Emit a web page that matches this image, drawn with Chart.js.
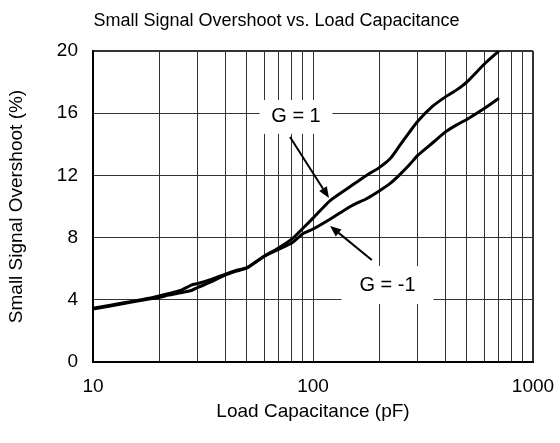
<!DOCTYPE html>
<html><head><meta charset="utf-8">
<script src="https://cdn.jsdelivr.net/npm/chart.js@4/dist/chart.umd.min.js"></script>
<style>html,body{margin:0;padding:0;background:#fff}#wrap{width:560px;height:443px}</style>
</head><body><div id="wrap"><canvas id="c" width="560" height="443"></canvas></div>
<script>
// ---- data ----
const capacitance = [10,12,15,18,20,22,25,28,30,35,40,45,50,60,70,80,90,100,120,150,175,200,225,250,275,300,350,400,450,500,600,700];
const overshootG1 = [3.45,3.65,3.9,4.1,4.25,4.4,4.6,4.95,5.05,5.35,5.65,5.9,6.05,6.8,7.35,7.9,8.6,9.25,10.4,11.35,12.0,12.5,13.1,14.0,14.8,15.5,16.45,17.05,17.5,18.0,19.15,20.0];
const overshootGm1 = [3.4,3.6,3.85,4.05,4.15,4.3,4.45,4.6,4.8,5.2,5.6,5.85,6.05,6.8,7.25,7.65,8.25,8.55,9.2,10.05,10.5,11.0,11.5,12.1,12.7,13.3,14.1,14.8,15.25,15.6,16.3,16.97];
const seriesNames = ['G = 1','G = -1'];
const xGridValues = [10,20,30,40,50,60,70,80,90,100,200,300,400,500,600,700,800,900,1000];
const xLabelValues = [10,100,1000];
const yTickValues = [0,4,8,12,16,20];

// ---- styles ----
const FONT = '"Liberation Sans", Arial, sans-serif';
const annotations = [
  {series:0, at:[83.7,15.76], box:[73,34], from:[78.6,14.47], to:[118.2,10.55]},
  {series:1, at:[218,4.95], box:[92,38], from:[185,6.56], to:[119.6,8.75]}
];

const annotPlugin = {
  id:'annot',
  afterDatasetsDraw(chart){
    const ctx = chart.ctx, xs = chart.scales.x, ys = chart.scales.y;
    ctx.save();
    annotations.forEach(a=>{
      const cx = xs.getPixelForValue(a.at[0]), cy = ys.getPixelForValue(a.at[1]);
      ctx.fillStyle = '#fff';
      ctx.fillRect(cx - a.box[0]/2, cy - a.box[1]/2, a.box[0], a.box[1]);
      ctx.fillStyle = '#000';
      ctx.font = '20px ' + FONT;
      ctx.textAlign = 'center'; ctx.textBaseline = 'middle';
      ctx.fillText(seriesNames[a.series], cx, cy);
      const x1 = xs.getPixelForValue(a.from[0]), y1 = ys.getPixelForValue(a.from[1]);
      const x2 = xs.getPixelForValue(a.to[0]), y2 = ys.getPixelForValue(a.to[1]);
      const ang = Math.atan2(y2-y1, x2-x1), L = 11, W = 4.5;
      const bx = x2 - L*Math.cos(ang), by = y2 - L*Math.sin(ang);
      ctx.strokeStyle = '#000'; ctx.lineWidth = 2;
      ctx.beginPath(); ctx.moveTo(x1,y1); ctx.lineTo(bx,by); ctx.stroke();
      ctx.beginPath();
      ctx.moveTo(x2,y2);
      ctx.lineTo(bx + W*Math.sin(ang), by - W*Math.cos(ang));
      ctx.lineTo(bx - W*Math.sin(ang), by + W*Math.cos(ang));
      ctx.closePath(); ctx.fill();
    });
    ctx.restore();
  }
};

const toPts = ys => capacitance.map((c,i)=>({x:c, y:ys[i]}));

new Chart(document.getElementById('c'), {
  type:'line',
  data:{datasets:[
    {label:seriesNames[0], data:toPts(overshootG1), borderColor:'#000', borderWidth:3, pointRadius:0, tension:0.2, fill:false},
    {label:seriesNames[1], data:toPts(overshootGm1), borderColor:'#000', borderWidth:3, pointRadius:0, tension:0.2, fill:false}
  ]},
  options:{
    responsive:false, animation:false, devicePixelRatio:1,
    layout:{padding:{left:0,right:7,top:0,bottom:0}},
    plugins:{
      legend:{display:false}, tooltip:{enabled:false},
      title:{display:true, text:'Small Signal Overshoot vs. Load Capacitance', color:'#000',
        font:{family:FONT, size:18, weight:'normal'}, padding:{top:10,bottom:19.4}}
    },
    scales:{
      x:{type:'logarithmic', position:'bottom', min:10, max:1000,
        afterBuildTicks:s=>{ s.ticks = xGridValues.map(v=>({value:v})); },
        afterFit:s=>{ s.height = 81; s.paddingLeft = 0; s.paddingRight = 0; },
        ticks:{autoSkip:false, maxRotation:0, minRotation:0, padding:13, color:'#000',
          font:{family:FONT, size:19},
          callback:v=> xLabelValues.includes(v) ? String(v) : ''},
        grid:{color:'#333', drawTicks:false, lineWidth:c=> (c.tick && c.tick.value===1000) ? 2 : 1},
        border:{color:'#000', width:2},
        title:{display:true, text:'Load Capacitance (pF)', color:'#000', font:{family:FONT, size:19}, padding:{top:0,bottom:19.6}}
      },
      y:{type:'linear', position:'left', min:0, max:20,
        afterBuildTicks:s=>{ s.ticks = yTickValues.map(v=>({value:v})); },
        afterFit:s=>{ s.width = 93; s.paddingTop = 0; s.paddingBottom = 0; },
        ticks:{padding:15, color:'#000', font:{family:FONT, size:19}},
        grid:{color:'#333', drawTicks:false, lineWidth:c=> (c.tick && c.tick.value===20) ? 2 : 1},
        border:{color:'#000', width:2},
        title:{display:true, text:'Small Signal Overshoot (%)', color:'#000', font:{family:FONT, size:19}, padding:{top:5.6,bottom:0}}
      },
      yr:{type:'linear', position:'right', display:true,
        afterFit:s=>{ s.width = 20; s.paddingTop = 0; s.paddingBottom = 0; },
        ticks:{display:false}, grid:{display:false}, border:{display:false}}
    }
  },
  plugins:[annotPlugin]
});
</script></body></html>
